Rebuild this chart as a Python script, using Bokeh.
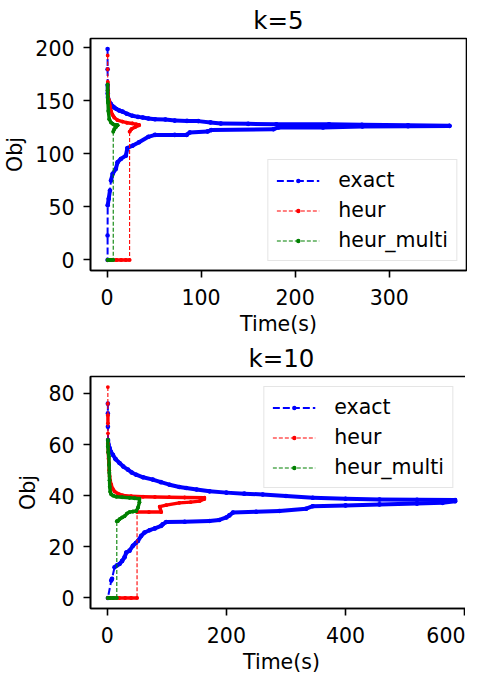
from bokeh.plotting import figure
from bokeh.models import Range1d, FixedTicker, Legend, LegendItem
from bokeh.layouts import column
from bokeh.embed import file_html
from bokeh.resources import INLINE

FONT = "DejaVu Sans"
NAMES = ["exact", "heur", "heur_multi"]
COLORS = ["#0000ff", "#ff0000", "#008000"]

# ---------------- k=5 ----------------
k5_exact_ub_t = [0.6, 0.6, 0.7, 0.8, 1.0, 1.5, 2.5, 4.2, 6, 7.7, 10, 13, 16.4, 21, 27, 33, 38, 44, 51, 62,
                 72, 85, 97, 110, 121, 150, 180, 236, 271, 320, 364]
k5_exact_ub_v = [199, 180, 165, 157, 153, 151, 149, 147, 145, 143.8, 142.5, 141, 140, 138, 136, 135, 134.4,
                 133.5, 132.8, 132.5, 131.5, 131.2, 131, 129.8, 128.8, 128.4, 128.1, 128, 127.5, 127, 126.6]
k5_exact_lb_t = [0.6, 0.6, 0.7, 1.8, 3.1, 4.2, 6, 9.4, 11.2, 14.7, 20, 21.7, 27, 34, 44, 51, 72, 84.6, 88,
                 107, 110.8, 177, 182.4, 229.6, 271.5, 320, 364]
k5_exact_lb_v = [0, 23, 51.5, 57.8, 65.6, 75, 81.3, 86, 92.2, 95.3, 98.4, 105.6, 107.8, 111, 116.2, 118,
                 118, 118, 120.3, 121.3, 122.5, 123.4, 125, 125, 126, 126.2, 126.4]

k5_heur_ub_t = [0.7, 0.7, 0.8, 0.9, 1.0, 1.5, 2.4, 3.2, 4.2, 5.8, 7.7, 11, 16.4, 21, 27, 31, 34]
k5_heur_ub_v = [193, 180, 168, 160, 156, 152, 150, 145, 140.6, 137, 134.4, 132, 130.6, 129.5, 128.8, 128, 127.5]
k5_heur_lb_t = [0.7, 5, 10, 15, 20, 24, 24, 26, 30, 34]
k5_heur_lb_v = [0, 0, 0, 0, 0, 0, 121, 123.5, 125.5, 127]

k5_multi_ub_t = [0.6, 0.6, 0.7, 0.8, 1.0, 1.4, 2.4, 4.2, 6, 7.7, 9.5, 11.2]
k5_multi_ub_v = [165.6, 160, 154, 150, 148.4, 140.6, 132.8, 129.7, 128.5, 127.5, 127.3, 127.2]
k5_multi_lb_t = [0.6, 2, 4, 6.6, 6.6, 7.7, 9.5, 11.2]
k5_multi_lb_v = [0, 0, 0, 0, 121, 123.4, 125.5, 127]

k5_xticks = [0, 100, 200, 300]
k5_yticks = [0, 50, 100, 150, 200]

# ---------------- k=10 ----------------
k10_exact_ub_t = [1, 1, 1.1, 1.3, 2, 3.9, 6, 9.4, 14, 20.6, 27, 34.6, 41, 48.6, 60, 76.5, 90, 104.5, 121,
                  132.5, 150, 171.6, 200, 230, 261, 300, 345, 400, 457, 520, 584]
k10_exact_ub_v = [76, 72.2, 67, 61.8, 60, 58.6, 57.2, 56, 54.3, 52.8, 51.4, 50.2, 49.1, 48.2, 47.2, 46.3,
                  45.3, 44.3, 43.4, 43, 42.4, 41.7, 41.2, 40.8, 40.5, 39.9, 39.2, 38.8, 38.5, 38.4, 38.3]
k10_exact_lb_t = [1, 6.7, 8, 12.2, 16, 20.6, 25, 29, 32, 37.4, 43, 48, 51.5, 57, 62.6, 71, 80, 90.6, 93, 99,
                  130, 171.6, 188, 200, 205, 211, 250, 289, 334, 345, 400, 457, 520, 563, 584]
k10_exact_lb_v = [0, 6.8, 7.5, 12, 12.7, 13.3, 14.5, 15.9, 17.8, 18.5, 20.4, 21.5, 22.3, 24.3, 25.6, 26.5,
                  27.2, 28.2, 28.8, 29.7, 29.8, 30.1, 30.5, 31.5, 32.3, 33.4, 33.7, 34, 34.9, 35.9, 36.2,
                  36.6, 36.9, 37.2, 37.8]

k10_heur_ub_t = [1, 1, 1.1, 1.1, 1.2, 1.3, 1.6, 2.2, 2.7, 3.3, 3.9, 5, 6.7, 9, 12.2, 18, 26, 40, 60, 80,
                 104, 130, 163]
k10_heur_ub_v = [82.5, 76, 71.5, 68.3, 64.4, 60.5, 57, 54.5, 52.8, 50, 47.6, 45.8, 44.3, 42.8, 41.7, 40.8,
                 40.1, 39.8, 39.6, 39.5, 39.4, 39.3, 39.2]
k10_heur_lb_t = [1, 10, 20, 30, 40, 50, 50, 70, 90.6, 88, 99, 121, 140, 155, 163]
k10_heur_lb_v = [0, 0, 0, 0, 0, 0, 33.6, 33.6, 33.6, 35.7, 36.3, 37.2, 37.5, 37.9, 38.7]

k10_multi_ub_t = [1, 1, 1.8, 2.7, 3.1, 3.5, 3.8, 4.1, 5, 6.7, 10, 15, 25, 37.4, 46, 54]
k10_multi_ub_v = [61.8, 59.2, 57, 55.3, 52, 49, 46, 43.5, 41.5, 40.5, 40, 39.6, 39.4, 39.2, 39, 38.8]
k10_multi_lb_t = [1, 5, 10, 16, 16, 17.8, 20.6, 25, 29, 33, 37.4, 43, 48.6, 51.5, 54]
k10_multi_lb_v = [0, 0, 0, 0, 30, 30.1, 30.8, 31.5, 32, 33, 33.6, 33.8, 34, 35.3, 37.4]

k10_xticks = [0, 200, 400, 600]
k10_yticks = [0, 20, 40, 60, 80]

STYLE = {
    "exact": dict(dash_w=2.0, dash="7 3", solid_w=4.0, msize=4.6),
    "heur": dict(dash_w=1.1, dash="4 2", solid_w=3.4, msize=3.8),
    "heur_multi": dict(dash_w=1.1, dash="4 2", solid_w=3.4, msize=3.8),
}


def pad(lo, hi, f=0.05):
    s = hi - lo
    return lo - f * s, hi + f * s


def build(title, data, xticks, yticks, fw, fh, bl, br, bt, bb, legend_loc, legend_margin):
    all_t = [t for d in data for t in (list(d[0]) + list(d[2]))]
    all_v = [v for d in data for v in (list(d[1]) + list(d[3]))]
    x0, x1 = pad(min(all_t), max(all_t))
    y0, y1 = pad(min(all_v), max(all_v))
    p = figure(frame_width=fw, frame_height=fh, x_range=Range1d(x0, x1), y_range=Range1d(y0, y1),
               output_backend="svg", toolbar_location=None,
               min_border_left=bl, min_border_right=br, min_border_top=bt, min_border_bottom=bb)
    sy = fh / (y1 - y0)
    items = []
    for name, color, (ubt, ubv, lbt, lbv) in zip(NAMES, COLORS, data):
        xs = list(ubt) + list(lbt)[::-1]
        ys = list(ubv) + list(lbv)[::-1]
        st = STYLE[name]
        dl = p.line(xs, ys, line_color=color, line_width=st["dash_w"], line_dash=st["dash"])
        sx0, sy0, sx1, sy1 = [], [], [], []
        for i in range(len(xs) - 1):
            if abs(ys[i + 1] - ys[i]) * sy <= 9.5:
                sx0.append(xs[i]); sy0.append(ys[i]); sx1.append(xs[i + 1]); sy1.append(ys[i + 1])
        p.segment(x0=sx0, y0=sy0, x1=sx1, y1=sy1, line_color=color, line_width=st["solid_w"],
                  line_cap="round")
        sc = p.scatter(xs, ys, size=st["msize"], marker="circle", fill_color=color, line_color=None)
        items.append(LegendItem(label=name, renderers=[dl, sc]))

    legend = Legend(items=items, location=legend_loc, margin=legend_margin)
    legend.label_text_font = FONT
    legend.label_text_font_size = "20.5px"
    legend.label_text_color = "black"
    legend.glyph_width = 43
    legend.glyph_height = 11
    legend.label_height = 24
    legend.label_standoff = 19
    legend.spacing = 6
    legend.padding = 8
    legend.border_line_color = "#cccccc"
    legend.border_line_width = 1.3
    legend.background_fill_alpha = 0.8
    p.add_layout(legend)

    p.title.text = title
    p.title.text_font = FONT
    p.title.text_font_size = "24.5px"
    p.title.text_font_style = "normal"
    p.title.text_color = "black"
    p.title.align = "center"
    p.title.standoff = 7

    p.xgrid.visible = False
    p.ygrid.visible = False
    p.outline_line_color = "black"
    p.outline_line_width = 1.6
    p.outline_line_alpha = 1.0

    p.xaxis.ticker = FixedTicker(ticks=xticks)
    p.yaxis.ticker = FixedTicker(ticks=yticks)
    p.xaxis.axis_label = "Time(s)"
    p.yaxis.axis_label = "Obj"
    for ax in (p.xaxis, p.yaxis):
        ax.axis_label_text_font = FONT
        ax.axis_label_text_font_size = "20.5px"
        ax.axis_label_text_font_style = "normal"
        ax.axis_label_text_color = "black"
        ax.major_label_text_font = FONT
        ax.major_label_text_font_size = "20.5px"
        ax.major_label_text_color = "black"
        ax.axis_line_width = 1.6
        ax.axis_line_color = "black"
        ax.major_tick_line_width = 1.6
        ax.major_tick_line_color = "black"
        ax.major_tick_out = 7
        ax.major_tick_in = 0
        ax.minor_tick_line_color = None
    p.xaxis.axis_label_standoff = 4
    p.yaxis.axis_label_standoff = 5
    p.xaxis.major_label_standoff = 11
    p.yaxis.major_label_standoff = 9
    p.yaxis.major_label_orientation = "horizontal"
    return p


k5_data = [
    (k5_exact_ub_t, k5_exact_ub_v, k5_exact_lb_t, k5_exact_lb_v),
    (k5_heur_ub_t, k5_heur_ub_v, k5_heur_lb_t, k5_heur_lb_v),
    (k5_multi_ub_t, k5_multi_ub_v, k5_multi_lb_t, k5_multi_lb_v),
]
k10_data = [
    (k10_exact_ub_t, k10_exact_ub_v, k10_exact_lb_t, k10_exact_lb_v),
    (k10_heur_ub_t, k10_heur_ub_v, k10_heur_lb_t, k10_heur_lb_v),
    (k10_multi_ub_t, k10_multi_ub_v, k10_multi_lb_t, k10_multi_lb_v),
]

p1 = build("k=5", k5_data, k5_xticks, k5_yticks, 376, 232, 84, 1, 32, 62, "bottom_right", 9)
p2 = build("k=10", k10_data, k10_xticks, k10_yticks, 382, 232, 73, 6, 38, 63, "top_right", 10)

layout = column(p1, p2, spacing=0)
open("out.html", "w").write(file_html(layout, INLINE))
